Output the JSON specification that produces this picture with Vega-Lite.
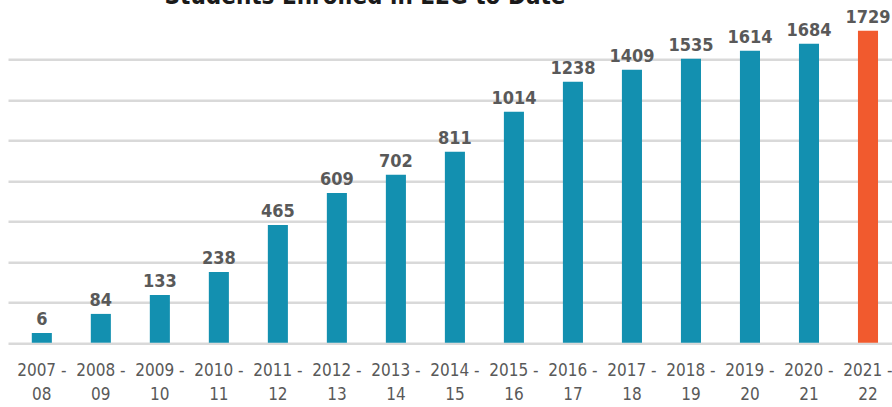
{
  "$schema": "https://vega.github.io/schema/vega-lite/v6.json",
  "autosize": "none",
  "width": 884,
  "height": 323.5,
  "padding": {"left": 8, "top": 19.2, "right": 0, "bottom": 64.3},
  "background": "white",
  "title": {
    "text": "Students Enrolled in E2G to Date",
    "font": "DejaVu Sans Condensed",
    "fontSize": 24,
    "fontWeight": "bold",
    "color": "#1a1a1a",
    "anchor": "middle",
    "frame": "group",
    "dx": -85,
    "dy": 19,
    "baseline": "alphabetic",
    "offset": 0
  },
  "data": {
    "values": [
      {"year": "2007 - 08", "bar": 60, "students": 6},
      {"year": "2008 - 09", "bar": 178, "students": 84},
      {"year": "2009 - 10", "bar": 295, "students": 133},
      {"year": "2010 - 11", "bar": 437, "students": 238},
      {"year": "2011 - 12", "bar": 728, "students": 465},
      {"year": "2012 - 13", "bar": 926, "students": 609},
      {"year": "2013 - 14", "bar": 1038, "students": 702},
      {"year": "2014 - 15", "bar": 1180, "students": 811},
      {"year": "2015 - 16", "bar": 1428, "students": 1014},
      {"year": "2016 - 17", "bar": 1613, "students": 1238},
      {"year": "2017 - 18", "bar": 1688, "students": 1409},
      {"year": "2018 - 19", "bar": 1756, "students": 1535},
      {"year": "2019 - 20", "bar": 1805, "students": 1614},
      {"year": "2020 - 21", "bar": 1848, "students": 1684},
      {"year": "2021 - 22", "bar": 1929, "students": 1729}
    ]
  },
  "encoding": {
    "x": {
      "field": "year",
      "type": "nominal",
      "sort": null,
      "title": null,
      "scale": {"paddingInner": 0.66, "paddingOuter": 0.32, "align": 0.63},
      "axis": {
        "domain": false,
        "ticks": false,
        "labelAngle": 0,
        "labelFont": "DejaVu Sans Condensed",
        "labelFontSize": 17,
        "labelColor": "#595959",
        "labelLineHeight": 24,
        "labelPadding": 20,
        "labelExpr": "[slice(datum.value, 0, 6), slice(datum.value, 7)]"
      }
    },
    "y": {
      "field": "bar",
      "type": "quantitative",
      "title": null,
      "scale": {"domain": [0, 2000], "nice": false},
      "axis": {
        "values": [0, 250, 500, 750, 1000, 1250, 1500, 1750],
        "labels": false,
        "ticks": false,
        "domain": false,
        "grid": true,
        "gridColor": "#d9d9d9",
        "gridWidth": 2.5
      }
    }
  },
  "layer": [
    {
      "mark": {"type": "bar"},
      "encoding": {
        "color": {
          "condition": {"test": "datum.year === '2021 - 22'", "value": "#F15A2E"},
          "value": "#1390B0"
        }
      }
    },
    {
      "mark": {
        "type": "text",
        "dy": -8,
        "baseline": "alphabetic",
        "font": "DejaVu Sans Condensed",
        "fontSize": 18,
        "fontWeight": "bold",
        "color": "#595959"
      },
      "encoding": {
        "text": {"field": "students", "type": "quantitative"}
      }
    }
  ],
  "config": {"view": {"stroke": null}}
}
